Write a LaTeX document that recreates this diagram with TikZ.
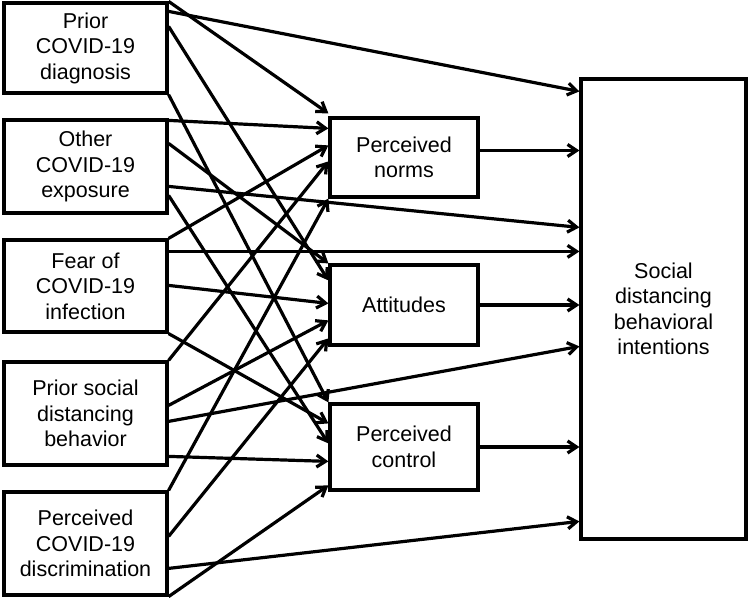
\documentclass[tikz,border=0pt]{standalone}
\usepackage{fontspec}
\setmainfont{Liberation Sans}
\usetikzlibrary{arrows.meta}
\begin{document}
\begin{tikzpicture}[x=1pt, y=-1pt, line width=3.2pt,
box/.style={draw, align=center, inner sep=0pt, font=\fontsize{21.5}{25.5}\selectfont},
arr/.style={-{Straight Barb[length=9pt,width=12pt]}}]
\useasboundingbox (0,0) rectangle (750,601);
\node[box, minimum width=163pt, minimum height=90pt] (pred1) at (85.5,48){Prior\\COVID-19\\diagnosis};
\node[box, minimum width=163pt, minimum height=93pt] (pred2) at (85.5,166.5){Other\\COVID-19\\exposure};
\node[box, minimum width=163pt, minimum height=92pt] (pred3) at (85.5,286){Fear of\\COVID-19\\infection};
\node[box, minimum width=163pt, minimum height=103pt] (pred4) at (85.5,413.5){Prior social\\distancing\\behavior};
\node[box, minimum width=163pt, minimum height=103pt] (pred5) at (85.5,543.5){Perceived\\COVID-19\\discrimination};
\node[box, minimum width=148pt, minimum height=79pt] (med1) at (404,157.5){Perceived\\norms};
\node[box, minimum width=148pt, minimum height=80pt] (med2) at (404,305){Attitudes};
\node[box, minimum width=148pt, minimum height=86pt] (med3) at (404,447){Perceived\\control};
\node[box, minimum width=165pt, minimum height=460pt] (out) at (663.5,309){Social\\distancing\\behavioral\\intentions};
\draw[arr](pred1.north east) -- ([yshift=3pt]med1.north west);
\draw[arr]([yshift=-10pt]pred1.north east) -- ([yshift=-14pt]out.north west);
\draw[arr]([yshift=-25pt]pred1.north east) -- ([yshift=-17pt]med2.north west);
\draw[arr](pred1.south east) -- (med3.north west);
\draw[arr]([yshift=-2pt]pred2.north east) -- ([yshift=-12pt]med1.north west);
\draw[arr]([yshift=-25pt]pred2.north east) -- (med2.north west);
\draw[arr]([yshift=-68pt]pred2.north east) -- ([yshift=-150pt]out.north west);
\draw[arr]([yshift=-77pt]pred2.north east) -- ([yshift=-41pt]med3.north west);
\draw[arr](pred3.north east) -- ([yshift=-29pt]med1.north west);
\draw[arr]([yshift=-13pt]pred3.north east) -- ([yshift=-174pt]out.north west);
\draw[arr]([yshift=-47pt]pred3.north east) -- ([yshift=-40pt]med2.north west);
\draw[arr](pred3.south east) -- ([yshift=-21pt]med3.north west);
\draw[arr](pred4.north east) -- ([yshift=-45pt]med1.north west);
\draw[arr]([yshift=-45pt]pred4.north east) -- ([yshift=-57pt]med2.north west);
\draw[arr]([yshift=-61pt]pred4.north east) -- ([yshift=-269pt]out.north west);
\draw[arr]([yshift=-96pt]pred4.north east) -- ([yshift=-59pt]med3.north west);
\draw[arr](pred5.north east) -- (med1.south west);
\draw[arr]([yshift=-46pt]pred5.north east) -- ([yshift=-75pt]med2.north west);
\draw[arr]([yshift=-78pt]pred5.north east) -- ([yshift=-444pt]out.north west);
\draw[arr](pred5.south east) -- ([yshift=-83pt]med3.north west);
\draw[arr]([yshift=7pt]med1.east) -- ([yshift=7pt]med1.east -| out.west);
\draw[arr](med2.east) -- (med2.east -| out.west);
\draw[arr](med3.east) -- (med3.east -| out.west);
\end{tikzpicture}
\end{document}
